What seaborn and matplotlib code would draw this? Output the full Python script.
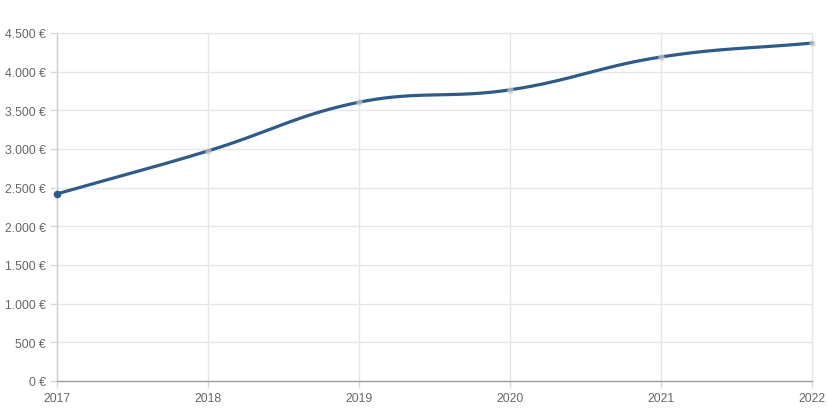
import numpy as np
import pandas as pd
import matplotlib
matplotlib.use("Agg")
import matplotlib.pyplot as plt
import seaborn as sns

years = [2017, 2018, 2019, 2020, 2021, 2022]
values = [2420, 2975, 3605, 3765, 4190, 4370]
ytick_values = [0, 500, 1000, 1500, 2000, 2500, 3000, 3500, 4000, 4500]

sns.set_theme(style="white")
plt.rcParams['font.family'] = ['Liberation Sans', 'DejaVu Sans']

W, H = 829, 414
fig = plt.figure(figsize=(W / 100, H / 100), dpi=100)
x0, x1, ytop, ybot = 57, 812, 34, 382
ax = fig.add_axes([x0 / W, (H - ybot) / H, (x1 - x0) / W, (ybot - ytop) / H])

# Chart.js-style bezier smoothing (tension 0.4) computed in pixel space
sx = (x1 - x0) / (years[-1] - years[0])
sy = (ybot - ytop) / 4500.0
px = np.array(years, float) * sx
py = np.array(values, float) * sy
t = 0.4
n = len(px)
cp_prev = []
cp_next = []
for i in range(n):
    p = np.array([px[max(i - 1, 0)], py[max(i - 1, 0)]])
    c = np.array([px[i], py[i]])
    q = np.array([px[min(i + 1, n - 1)], py[min(i + 1, n - 1)]])
    d01 = np.hypot(*(c - p))
    d12 = np.hypot(*(q - c))
    s01 = d01 / (d01 + d12) if d01 + d12 > 0 else 0
    s12 = d12 / (d01 + d12) if d01 + d12 > 0 else 0
    fa = t * s01
    fb = t * s12
    cp_prev.append(c - fa * (q - p))
    cp_next.append(c + fb * (q - p))
cx, cy = [], []
tt = np.linspace(0, 1, 60)
for i in range(n - 1):
    P0 = np.array([px[i], py[i]])
    P1 = cp_next[i]
    P2 = cp_prev[i + 1]
    P3 = np.array([px[i + 1], py[i + 1]])
    B = ((1 - tt)[:, None] ** 3 * P0 + 3 * ((1 - tt) ** 2 * tt)[:, None] * P1
         + 3 * ((1 - tt) * tt ** 2)[:, None] * P2 + (tt ** 3)[:, None] * P3)
    cx.extend(B[:, 0] / sx)
    cy.extend(B[:, 1] / sy)
curve = pd.DataFrame({"x": cx, "y": cy, "s": np.arange(len(cx))})

grid_c = "#e6e6e6"
for v in ytick_values:
    ax.axhline(v, color=grid_c, lw=1, zorder=0)
for yr in years:
    ax.axvline(yr, color=grid_c, lw=1, zorder=0)

line_c = "#2e5b88"
sns.lineplot(data=curve, x="x", y="y", sort=False, estimator=None, color=line_c,
             lw=2.3, ax=ax, zorder=3)
pts = pd.DataFrame({"year": years, "value": values})
ax.scatter(years[1:], values[1:], s=22, color="#c8c8c8", alpha=0.7, zorder=4, linewidths=0)
ax.scatter(years[:1], values[:1], s=30, color=line_c, zorder=5, linewidths=0)

ax.set_xlim(years[0], years[-1])
ax.set_ylim(0, 4500)
ax.set_xticks(years)
ax.set_xticklabels([str(y) for y in years])
ax.set_yticks(ytick_values)
ax.set_yticklabels([f"{v:,}".replace(",", ".") + " €" for v in ytick_values])
ax.tick_params(axis="both", labelsize=8.8, colors="#d9d9d9", labelcolor="#666666",
               length=5, width=1, direction="out", pad=3, left=True, bottom=True)
ax.set_xlabel("")
ax.set_ylabel("")
for s in ["top", "right"]:
    ax.spines[s].set_visible(False)
ax.spines["left"].set_color("#d0d0d0")
ax.spines["bottom"].set_color("#a0a0a0")
ax.spines["left"].set_linewidth(1)
ax.spines["bottom"].set_linewidth(1)
ax.set_clip_on(False)
for l in ax.lines:
    l.set_clip_on(False)
for c in ax.collections:
    c.set_clip_on(False)

fig.savefig("out.png", dpi=100)
